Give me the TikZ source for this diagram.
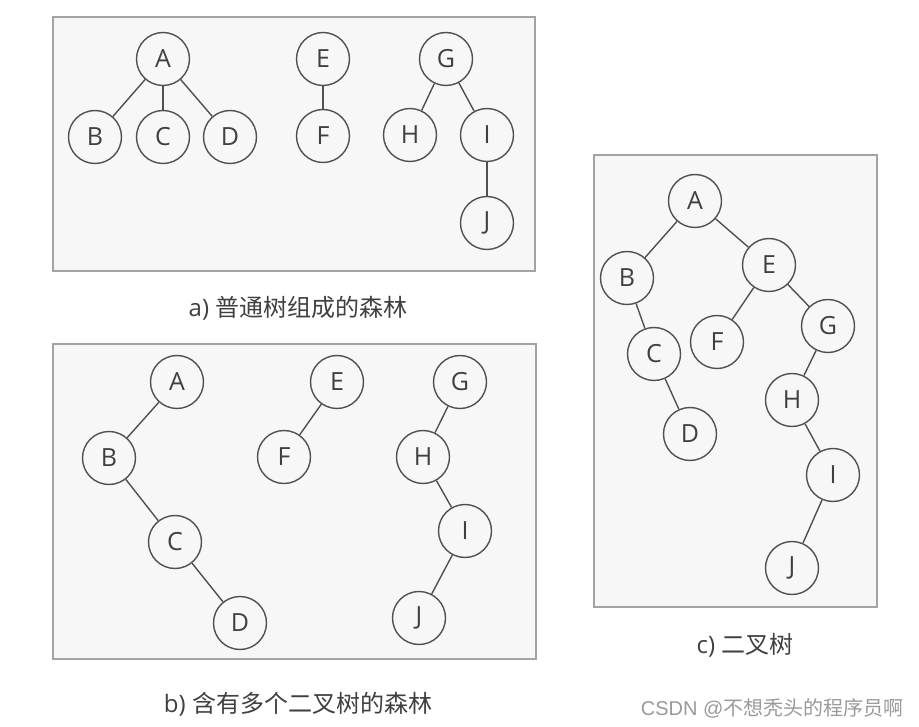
\documentclass[tikz,border=0pt]{standalone}
\usepackage{fontspec}
\setmainfont{Open Sans}
\newfontfamily\cjk{Noto Sans CJK SC}
\newfontfamily\wmfont{Liberation Sans}
\usetikzlibrary{positioning}
\definecolor{panelbg}{HTML}{F7F7F7}
\definecolor{panelline}{HTML}{A3A3A3}
\definecolor{inkgray}{HTML}{505050}
\definecolor{textgray}{HTML}{404040}
\definecolor{markgray}{HTML}{9A9A9A}

\begin{document}
\begin{tikzpicture}[x=1pt, y=-1pt, panel/.style={draw=panelline, fill=panelbg, line width=1.6pt}, nd/.style={circle, draw=inkgray, fill=panelbg, line width=1.4pt, minimum size=53pt, inner sep=0pt, text=textgray, font=\fontsize{25}{25}\selectfont}, edge/.style={draw=inkgray, line width=1.4pt}, capline/.style={text=textgray, font=\fontsize{24}{24}\selectfont}]
\useasboundingbox (0,0) rectangle (919,727);
\fill[white] (0,0) rectangle (919,727);
% panels
\draw[panel] (53,17) rectangle (535,271);
\draw[panel] (53,344) rectangle (536,659);
\draw[panel] (594,155) rectangle (877,607);

% a) forest of ordinary trees
\node[nd] (aA) at (163,59) {A}; \node[nd] (aB) at (95,137) {B}; \node[nd] (aC) at (163,137) {C}; \node[nd] (aD) at (230,137) {D};
\node[nd] (aE) at (323,59) {E}; \node[nd] (aF) at (323,136) {F};
\node[nd] (aG) at (446,59) {G}; \node[nd] (aH) at (410,135) {H}; \node[nd] (aI) at (487,135) {I}; \node[nd] (aJ) at (487,223) {J};
\draw[edge] (aA)--(aB); \draw[edge] (aA)--(aC); \draw[edge] (aA)--(aD); \draw[edge] (aE)--(aF);
\draw[edge] (aG)--(aH); \draw[edge] (aG)--(aI); \draw[edge] (aI)--(aJ);
\node[capline] (capa) at (298,308) {a) {\cjk 普通树组成的森林}};

% b) forest of binary trees
\node[nd] (bA) at (177,382) {A}; \node[nd] (bB) at (109,458) {B}; \node[nd] (bC) at (175,542) {C}; \node[nd] (bD) at (240,623) {D};
\node[nd] (bE) at (337,382) {E}; \node[nd] (bF) at (284,457) {F};
\node[nd] (bG) at (460,382) {G}; \node[nd] (bH) at (423,457) {H}; \node[nd] (bI) at (465,531) {I}; \node[nd] (bJ) at (419,618) {J};
\draw[edge] (bA)--(bB); \draw[edge] (bB)--(bC); \draw[edge] (bC)--(bD); \draw[edge] (bE)--(bF);
\draw[edge] (bG)--(bH); \draw[edge] (bH)--(bI); \draw[edge] (bI)--(bJ);
\node[capline] (capb) at (298,704) {b) {\cjk 含有多个二叉树的森林}};

% c) binary tree
\node[nd] (cA) at (695,201) {A}; \node[nd] (cB) at (627,278) {B}; \node[nd] (cC) at (654,354) {C}; \node[nd] (cD) at (690,434) {D};
\node[nd] (cE) at (769,265) {E}; \node[nd] (cF) at (717,342) {F}; \node[nd] (cG) at (828,326) {G};
\node[nd] (cH) at (792,400) {H}; \node[nd] (cI) at (833,475) {I}; \node[nd] (cJ) at (792,568) {J};
\draw[edge] (cA)--(cB); \draw[edge] (cB)--(cC); \draw[edge] (cC)--(cD); \draw[edge] (cA)--(cE);
\draw[edge] (cE)--(cF); \draw[edge] (cE)--(cG); \draw[edge] (cG)--(cH); \draw[edge] (cH)--(cI); \draw[edge] (cI)--(cJ);
\node[capline] (capc) at (745,645) {c) {\cjk 二叉树}};

\node[anchor=east, text=markgray, font=\fontsize{20}{20}\selectfont] (mark) at (907,708) {\wmfont CSDN @{\cjk 不想秃头的程序员啊}};
\end{tikzpicture}
\end{document}
